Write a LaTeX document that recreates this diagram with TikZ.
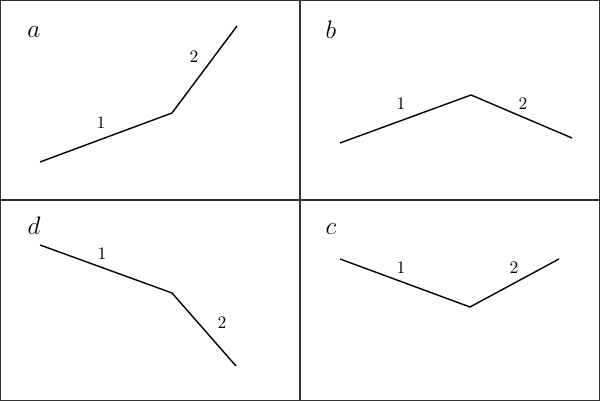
\documentclass[tikz,border=0pt]{standalone}
\begin{document}
\begin{tikzpicture}[x=0.02cm,y=-0.02cm,
  seg/.style={line width=0.8pt},
  frame/.style={line width=0.7pt, draw=black!80},
  letter/.style={font=\Large, inner sep=0pt},
  num/.style={font=\normalsize, inner sep=0pt}]
\useasboundingbox (0,0) rectangle (600,401);
\draw[frame] (0.5,0.5) rectangle (599.5,400.5);
\draw[frame] (300,0.5) -- (300,400.5);
\draw[frame] (0.5,200) -- (599.5,200);
% panel a
\coordinate (a1) at (40,162); \coordinate (a2) at (172,113); \coordinate (a3) at (237,26);
\draw[seg] (a1) -- (a2) -- (a3);
\node[letter] (la) at (34,32) {$a$};
\node[num] (na1) at (101,123) {1};
\node[num] (na2) at (194,57) {2};
% panel b
\coordinate (b1) at (340,143); \coordinate (b2) at (471,95); \coordinate (b3) at (572,138);
\draw[seg] (b1) -- (b2) -- (b3);
\node[letter] (lb) at (331,30) {$b$};
\node[num] (nb1) at (401,104) {1};
\node[num] (nb2) at (523,104) {2};
% panel d
\coordinate (d1) at (40,245); \coordinate (d2) at (172,293); \coordinate (d3) at (236,366);
\draw[seg] (d1) -- (d2) -- (d3);
\node[letter] (ld) at (34,226) {$d$};
\node[num] (nd1) at (102,254) {1};
\node[num] (nd2) at (222,323) {2};
% panel c
\coordinate (c1) at (340,259); \coordinate (c2) at (470,307); \coordinate (c3) at (559,259);
\draw[seg] (c1) -- (c2) -- (c3);
\node[letter] (lc) at (331,229) {$c$};
\node[num] (nc1) at (401,268) {1};
\node[num] (nc2) at (514,268) {2};
\end{tikzpicture}
\end{document}
